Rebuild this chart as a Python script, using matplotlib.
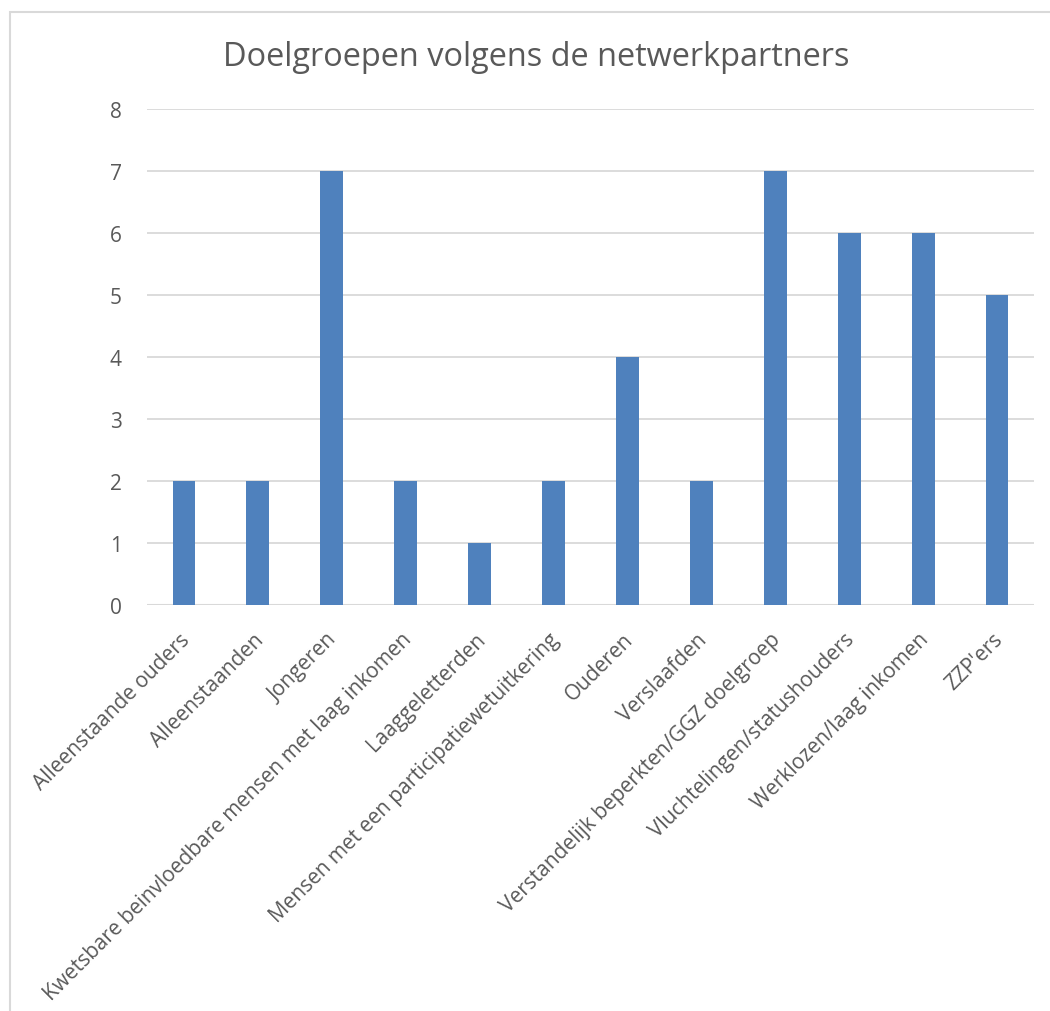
import numpy as np
import matplotlib.pyplot as plt
import matplotlib.transforms as mtransforms
from matplotlib.patches import Rectangle

categories = [
    "Alleenstaande ouders",
    "Alleenstaanden",
    "Jongeren",
    "Kwetsbare beinvloedbare mensen met laag inkomen",
    "Laaggeletterden",
    "Mensen met een participatiewetuitkering",
    "Ouderen",
    "Verslaafden",
    "Verstandelijk beperkten/GGZ doelgroep",
    "Vluchtelingen/statushouders",
    "Werklozen/laag inkomen",
    "ZZP'ers",
]
counts = [2, 2, 7, 2, 1, 2, 4, 2, 7, 6, 6, 5]
yticks = [0, 1, 2, 3, 4, 5, 6, 7, 8]

plt.rcParams["font.family"] = ["Open Sans", "DejaVu Sans"]
text_col = "#595959"
grid_col = "#d9d9d9"

W, H = 1050, 1012
fig = plt.figure(figsize=(W / 100, H / 100), dpi=100)

# chart frame (light grey, only top/left visible in the crop)
fig.patches.append(Rectangle((10 / W, -0.1), 1.2, 1 - 13 / H + 0.1,
                             transform=fig.transFigure, fill=False,
                             edgecolor=grid_col, linewidth=1.5))

ax = fig.add_axes([147 / W, 1 - 606 / H, (1034 - 147) / W, (606 - 110) / H])
x = np.arange(len(categories))
ax.bar(x, counts, width=0.31, color="#4f81bd", zorder=3)

ax.set_xlim(-0.5, len(categories) - 0.5)
ax.set_ylim(0, 8)
ax.set_yticks(yticks)
ax.yaxis.grid(True, color=grid_col, linewidth=1.3, zorder=0)
for s in ax.spines.values():
    s.set_visible(False)
ax.axhline(0, color=grid_col, linewidth=1.5, zorder=2)

ax.tick_params(axis="both", length=0, labelcolor=text_col)
ax.tick_params(axis="y", pad=18, labelsize=15)
ax.set_xticks(x)
ax.set_xticklabels(categories, rotation=45, ha="right", rotation_mode="anchor")
ax.tick_params(axis="x", pad=17, labelsize=15)
shift = mtransforms.ScaledTranslation(-5 / 100, 0, fig.dpi_scale_trans)
for lab in ax.get_xticklabels():
    lab.set_transform(lab.get_transform() + shift)

fig.text(536 / W, 1 - 58 / H, "Doelgroepen volgens de netwerkpartners",
         ha="center", va="center", fontsize=23.4, color=text_col)

fig.savefig("out.png", dpi=100)
